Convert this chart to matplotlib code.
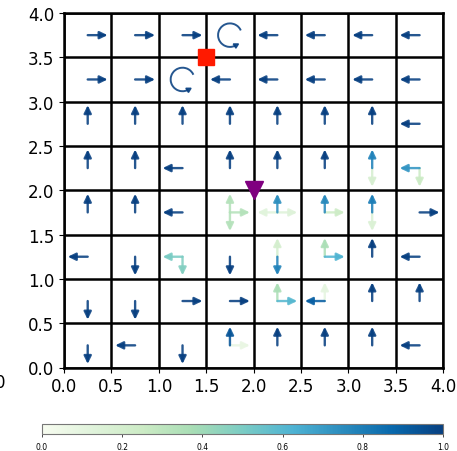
import numpy as np
import matplotlib
matplotlib.use("Agg")
import matplotlib.pyplot as plt
from matplotlib.patches import Arc, RegularPolygon
import matplotlib as mpl

# Policy probabilities per cell (rows listed top -> bottom, columns left -> right)
p_up = [
    [0, 0, 0, 0, 0, 0, 0, 0],
    [0, 0, 0, 0, 0, 0, 0, 0],
    [1, 1, 1, 1, 1, 1, 1, 0],
    [1, 1, 0, 1, 1, 1, 0.78, 0],
    [1, 1, 0, 0.33, 0.74, 0.76, 0.8, 0],
    [0, 0, 0, 0, 0.2, 0.36, 1, 0],
    [0, 0, 0, 0, 0.36, 0.1, 1, 1],
    [0, 0, 0, 0.93, 1, 1, 1, 0],
]
p_down = [
    [0, 0, 0, 0, 0, 0, 0, 0],
    [0, 0, 0, 0, 0, 0, 0, 0],
    [0, 0, 0, 0, 0, 0, 0, 0],
    [0, 0, 0, 0, 0, 0, 0.18, 0.25],
    [0, 0, 0, 0.33, 0, 0, 0.16, 0],
    [0, 1, 0.48, 1, 0.78, 0, 0, 0],
    [1, 1, 0, 0, 0, 0, 0, 0],
    [1, 0, 1, 0, 0, 0, 0, 0],
]
p_left = [
    [0, 0, 0, 0, 1, 1, 1, 1],
    [0, 0, 0, 1, 1, 1, 1, 1],
    [0, 0, 0, 0, 0, 0, 0, 1],
    [0, 0, 1, 0, 0, 0, 0, 0.72],
    [0, 0, 1, 0, 0.12, 0, 0, 0],
    [1, 0, 0.5, 0, 0, 0, 0, 1],
    [0, 0, 0, 0, 0, 0.9, 0, 0],
    [0, 1, 0, 0, 0, 0, 0, 1],
]
p_right = [
    [1, 1, 1, 0, 0, 0, 0, 0],
    [1, 1, 0, 0, 0, 0, 0, 0],
    [0, 0, 0, 0, 0, 0, 0, 0],
    [0, 0, 0, 0, 0, 0, 0, 0],
    [0, 0, 0, 0.33, 0.14, 0.24, 0, 1],
    [0, 0, 0, 0, 0, 0.62, 0, 0],
    [0, 0, 1, 1, 0.6, 0, 0, 0],
    [0, 0, 0, 0.08, 0, 0, 0, 0],
]
p_stay = [
    [0, 0, 0, 1, 0, 0, 0, 0],
    [0, 0, 1, 0, 0, 0, 0, 0],
    [0, 0, 0, 0, 0, 0, 0, 0],
    [0, 0, 0, 0, 0, 0, 0, 0],
    [0, 0, 0, 0, 0, 0, 0, 0],
    [0, 0, 0, 0, 0, 0, 0, 0],
    [0, 0, 0, 0, 0, 0, 0, 0],
    [0, 0, 0, 0, 0, 0, 0, 0],
]
goal_xy = (1.5, 3.5)
start_xy = (2.0, 2.0)
ticks = [0.0, 0.5, 1.0, 1.5, 2.0, 2.5, 3.0, 3.5, 4.0]
cbar_ticks = [0.0, 0.2, 0.4, 0.6, 0.8, 1.0]

cmap = plt.get_cmap("GnBu")
norm = mpl.colors.Normalize(0, 1)

fig = plt.figure(figsize=(4.57, 4.52), dpi=100)
ax = fig.add_axes([64/457, 1-368.5/452, (443.3-64)/457, (368.5-14)/452])
ax.set_xlim(0, 4)
ax.set_ylim(0, 4)

for t in ticks:
    ax.axhline(t, color="black", lw=1.8, zorder=1)
    ax.axvline(t, color="black", lw=1.8, zorder=1)

n = 8
cell = 0.5
L = 0.21
dirs = [(p_up, 0, 1), (p_down, 0, -1), (p_left, -1, 0), (p_right, 1, 0)]
for r in range(n):
    for c in range(n):
        cx = cell * c + cell / 2
        cy = 4 - (cell * r + cell / 2)
        items = []
        for arr, dx, dy in dirs:
            v = arr[r][c]
            if v > 0.02:
                items.append((v, dx, dy))
        items.sort(key=lambda t: t[0])
        for v, dx, dy in items:
            col = cmap(norm(v))
            ax.annotate("", xy=(cx + dx * L, cy + dy * L), xytext=(cx, cy),
                        arrowprops=dict(arrowstyle="-|>,head_width=0.22,head_length=0.45",
                                        color=col, lw=1.7, shrinkA=0, shrinkB=0,
                                        mutation_scale=10, alpha=0.88), zorder=3)
        if p_stay[r][c] > 0:
            col = cmap(norm(p_stay[r][c]))
            w = 0.25
            h = 0.265
            t1, t2 = 25, 300
            arc = Arc((cx, cy), w, h, angle=0, theta1=t1, theta2=t2, color=col, lw=1.4,
                      alpha=0.88, zorder=3)
            ax.add_patch(arc)
            ex = cx + (w / 2) * np.cos(np.radians(t2))
            ey = cy + (h / 2) * np.sin(np.radians(t2))
            ax.add_patch(RegularPolygon((ex, ey), 3, radius=0.032,
                                        orientation=np.radians(t2), color=col,
                                        alpha=0.88, zorder=3))

ax.plot([goal_xy[0]], [goal_xy[1]], marker="s", color="#ff1a00", markersize=12, zorder=5, linestyle="none")
ax.plot([start_xy[0]], [start_xy[1]], marker="v", color="#800080", markersize=13, zorder=5, linestyle="none")

ax.set_xticks(ticks)
ax.set_yticks(ticks)
ax.set_xticklabels([f"{t:.1f}" for t in ticks], fontsize=12)
ax.set_yticklabels([f"{t:.1f}" for t in ticks], fontsize=12)
for s in ax.spines.values():
    s.set_linewidth(1.8)

cax = fig.add_axes([41.7/457, 1-435/452, (443.3-41.7)/457, 10/452])
cb = mpl.colorbar.ColorbarBase(cax, cmap=cmap, norm=norm, orientation="horizontal")
cb.set_ticks(cbar_ticks)
cb.ax.tick_params(labelsize=5.5, length=2, width=0.5)
cb.outline.set_edgecolor("#777777")
cb.outline.set_linewidth(0.8)

fig.text(-0.012, 1-383/452, "0", fontsize=12, va="center", ha="left")

fig.savefig("out.png", dpi=100)
